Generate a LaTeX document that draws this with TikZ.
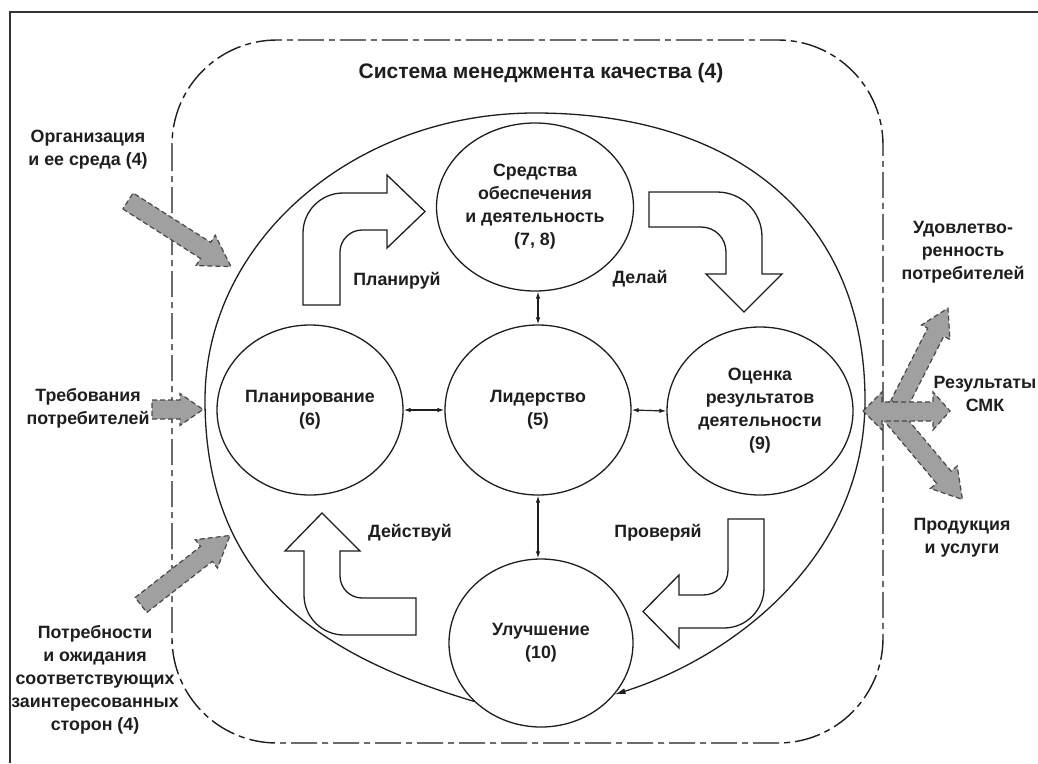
\documentclass[tikz,border=0pt]{standalone}
\usepackage{fontspec}
\setmainfont{Liberation Sans}
\usetikzlibrary{arrows.meta,shapes.geometric}
\definecolor{ink}{HTML}{1E1E1E}
\definecolor{fatfill}{HTML}{A0A0A0}
\definecolor{fatline}{HTML}{484848}
\newcommand\qmsFat[7]{% name, tail, angle, length, shaft half, head half, head length
  \draw[fatarrow, shift={(#2)}, rotate=#3] (0,#5) -- ({#4-#7},#5) -- ({#4-#7},#6) -- (#4,0) coordinate (#1) -- ({#4-#7},-#6) -- ({#4-#7},-#5) -- (0,-#5) -- cycle;}
\begin{document}
\begin{tikzpicture}[x=1pt,y=-1pt,
  txt/.style={font=\bfseries\fontsize{17.8}{23}\selectfont, text=ink, align=center, inner sep=0pt},
  circ/.style={ellipse, draw=ink, line width=1.3pt, fill=white, inner sep=0pt, txt},
  pdca/.style={draw=ink, line width=1.3pt, fill=white, line join=miter},
  fatarrow/.style={fill=fatfill, draw=fatline, line width=1.2pt, dash pattern=on 5pt off 3pt},
  link/.style={draw=ink, line width=1.2pt, {Latex[length=7pt,width=4.5pt]}-{Latex[length=7pt,width=4.5pt]}},
  dashdot/.style={draw=ink, line width=1.4pt, dash pattern=on 26pt off 5pt on 6pt off 5pt},
  frame/.style={draw=ink!90, line width=2.4pt},
  loopline/.style={draw=ink, line width=1.3pt, -{Latex[length=11pt,width=6pt]}}]
\useasboundingbox (0,0) rectangle (1038,763);
\fill[white] (0,0) rectangle (1038,763);
% outer frame (left and top edges only)
\draw[frame] (10,763) -- (10,12) -- (1038,12);
% quality management system boundary
\draw[dashdot, rounded corners=105pt] (172,40) rectangle (883,743);
\node[txt, font=\bfseries\fontsize{21}{24}\selectfont] (title) at (541,73) {Система менеджмента качества (4)};
% circles
\node[circ, minimum width=186pt, minimum height=168pt] (sred) at (535,207) {Средства\\обеспечения\\и деятельность\\(7, 8)};
\node[circ, minimum width=186pt, minimum height=170pt] (plan) at (310,410) {Планирование\\(6)};
\node[circ, minimum width=186pt, minimum height=170pt] (lid) at (538,410) {Лидерство\\(5)};
\node[circ, minimum width=186pt, minimum height=168pt] (ocen) at (760,411) {Оценка\\результатов\\деятельности\\(9)};
\node[circ, minimum width=184pt, minimum height=168pt] (imp) at (541,643) {Улучшение\\(10)};
% big loop
\draw[loopline] (imp.221) .. controls (333,659) and (205,590) .. (205,400)
  .. controls (205,242) and (353,113) .. (535,113)
  .. controls (740,113) and (865,222) .. (865,400)
  .. controls (865,560) and (730,658) .. (imp.-35);
% links
\draw[link] (lid.north |- sred.south) -- (lid.north);
\draw[link] (plan.east) -- (lid.west);
\draw[link] (lid.east) -- (ocen.west);
\draw[link] (lid.south) -- (lid.south |- imp.north);
% PDCA hollow arrows
\draw[pdca] (303,305) -- (303,233) .. controls (303,211) and (321,193) .. (343,193) -- (387,193) -- (387,175) -- (425,211.5) -- (387,248) -- (387,230) -- (362,230) .. controls (350,230) and (340,240) .. (340,252) -- (340,305) -- cycle;
\draw[pdca] (649,192) -- (717,192) .. controls (742,192) and (762,212) .. (762,237) -- (762,274) -- (782,274) -- (744,312) -- (706,274) -- (726,274) -- (726,252) .. controls (726,238) and (715,227) .. (701,227) -- (649,227) -- cycle;
\draw[pdca] (728,519) -- (764,519) -- (764,588) .. controls (764,610) and (746,628) .. (724,628) -- (679,628) -- (679,648) -- (643,611.5) -- (679,575) -- (679,595) -- (703,595) .. controls (717,595) and (728,584) .. (728,570) -- cycle;
\draw[pdca] (416,635) -- (344,635) .. controls (322,635) and (304,617) .. (304,595) -- (304,551) -- (285,551) -- (322,513) -- (360,551) -- (340,551) -- (340,576) .. controls (340,588) and (350,598) .. (362,598) -- (416,598) -- cycle;
\node[txt] (plLbl) at (397,281) {Планируй};
\node[txt] (doLbl) at (640,279) {Делай};
\node[txt] (actLbl) at (410,533) {Действуй};
\node[txt] (chkLbl) at (658,533) {Проверяй};
% left labels
\node[txt] (org) at (88,150) {Организация\\и ее среда (4)};
\node[txt] (treb) at (88,408) {Требования\\потребителей};
\node[txt] (potr) at (95,680) {Потребности\\и ожидания\\соответствующих\\заинтересованных\\сторон (4)};
% right labels
\node[txt] (udov) at (963,252) {Удовлетво-\\ренность\\потребителей};
\node[txt] (rez) at (985,394) {Результаты\\СМК};
\node[txt] (prod) at (962,538) {Продукция\\и услуги};
% grey input / output arrows
\qmsFat{orgTip}{128,201}{-32.5}{122}{9.5}{18}{30}
\qmsFat{trebTip}{152,409.5}{0}{51}{9.5}{16}{23}
\qmsFat{potrTip}{141,605}{38}{113}{9.5}{18}{30}
\qmsFat{udovTip}{893,416}{63}{121}{9}{16}{27}
\qmsFat{prodTip}{884,406}{-50}{122}{9.5}{17.5}{29}
\draw[fatarrow] (863,411) -- (882,392) -- (882,402) -- (933,402) -- (933,392) -- (950,411) -- (933,430) -- (933,421) -- (882,421) -- (882,430) -- cycle;
\end{tikzpicture}
\end{document}
